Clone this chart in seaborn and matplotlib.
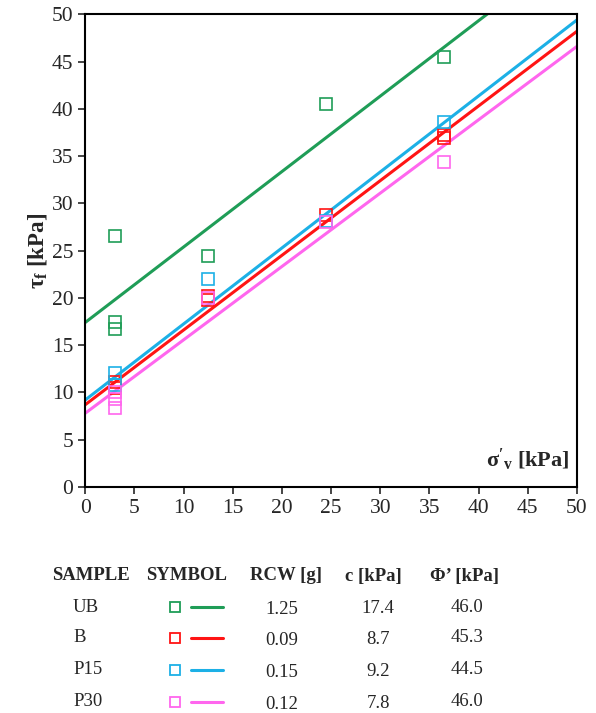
# Shear strength vs vertical effective stress - direct shear results

import numpy as np
import pandas as pd
import seaborn as sns
import matplotlib.pyplot as plt
from matplotlib.lines import Line2D

# sample names and colours
samples = ['UB', 'B', 'P15', 'P30']
colors = ['#1f9d57', '#ff1414', '#1cb0e6', '#ff66ee']

# measured points (sigma'v, tau_f) per sample
ub_x = [3, 3, 3, 12.5, 24.5, 36.5]
ub_y = [26.5, 17.4, 16.7, 24.4, 40.5, 45.5]
b_x = [3, 3, 12.5, 12.5, 24.5, 36.5, 36.5]
b_y = [11.1, 10.5, 20.2, 19.8, 28.8, 37.2, 36.9]
p15_x = [3, 3, 12.5, 24.5, 36.5]
p15_y = [12.1, 10.8, 22.0, 28.1, 38.6]
p30_x = [3, 3, 3, 12.5, 24.5, 36.5]
p30_y = [10.0, 9.3, 8.4, 20.0, 28.0, 34.4]

# failure envelopes read at sigma'v = 0 and sigma'v = 50
line_x = [0, 50]
ub_line = [17.4, 57.3]
b_line = [8.7, 48.2]
p15_line = [9.2, 49.4]
p30_line = [7.8, 46.6]

# table values
rcw = ['1.25', '0.09', '0.15', '0.12']
c_vals = ['17.4', '8.7', '9.2', '7.8']
phi_vals = ['46.0', '45.3', '44.5', '46.0']

pts = pd.concat([
    pd.DataFrame({'sv': ub_x, 'tau': ub_y, 'sample': 'UB'}),
    pd.DataFrame({'sv': b_x, 'tau': b_y, 'sample': 'B'}),
    pd.DataFrame({'sv': p15_x, 'tau': p15_y, 'sample': 'P15'}),
    pd.DataFrame({'sv': p30_x, 'tau': p30_y, 'sample': 'P30'}),
])
lines = pd.concat([
    pd.DataFrame({'sv': line_x, 'tau': ub_line, 'sample': 'UB'}),
    pd.DataFrame({'sv': line_x, 'tau': b_line, 'sample': 'B'}),
    pd.DataFrame({'sv': line_x, 'tau': p15_line, 'sample': 'P15'}),
    pd.DataFrame({'sv': line_x, 'tau': p30_line, 'sample': 'P30'}),
])

sns.set_style('ticks')
plt.rcParams['font.family'] = ['Liberation Serif', 'DejaVu Serif']
plt.rcParams['mathtext.fontset'] = 'custom'
plt.rcParams['mathtext.rm'] = 'Liberation Serif'
plt.rcParams['mathtext.bf'] = 'Liberation Serif:bold'
plt.rcParams['mathtext.it'] = 'Liberation Serif:italic'

fig = plt.figure(figsize=(5.96, 7.13), dpi=100)
ax = fig.add_axes([0.143, 0.317, 0.825, 0.663])

pal = dict(zip(samples, colors))
sns.lineplot(data=lines, x='sv', y='tau', hue='sample', palette=pal,
             hue_order=samples, linewidth=2.2, legend=False, ax=ax)
for s in samples:
    d = pts[pts['sample'] == s]
    ax.plot(d['sv'], d['tau'], 's', ms=9, mfc='none', mec=pal[s], mew=1.2)

ax.set_xlim(0, 50)
ax.set_ylim(0, 50)
ax.set_xticks(np.arange(0, 51, 5))
ax.set_yticks(np.arange(0, 51, 5))
ax.tick_params(labelsize=15.5, length=5, width=1.2, direction='out')
for sp in ax.spines.values():
    sp.set_linewidth(1.5)
    sp.set_color('black')
ax.set_xlabel('')
ax.set_ylabel(r'$\mathbf{\tau_f}$ [kPa]', fontsize=16.5, fontweight='bold', labelpad=2)
ax.text(0.985, 0.03, r"$\mathbf{\sigma'_v}$ [kPa]", transform=ax.transAxes,
        ha='right', va='bottom', fontsize=16, fontweight='bold')

# table under the chart
hdr_y = 1 - 576 / 713
col_x = [91 / 596, 187 / 596, 286 / 596, 373 / 596, 465 / 596]
headers = ['SAMPLE', 'SYMBOL', 'RCW [g]', 'c [kPa]', 'Φ’ [kPa]']
for x, h in zip(col_x, headers):
    fig.text(x, hdr_y, h, ha='center', va='center', fontsize=13.5, fontweight='bold')

row_y = [607, 638, 670, 702]
for i, s in enumerate(samples):
    y = 1 - row_y[i] / 713
    fig.text(73 / 596, y, s, ha='left', va='center', fontsize=13.5)
    fig.add_artist(Line2D([175 / 596], [y], marker='s', ms=7, mfc='none',
                          mec=colors[i], mew=1.3, transform=fig.transFigure))
    fig.add_artist(Line2D([191 / 596, 223 / 596], [y, y], color=colors[i],
                          lw=2.2, transform=fig.transFigure))
    fig.text(282 / 596, y - 0.004, rcw[i], ha='center', va='center', fontsize=13.5)
    fig.text(378 / 596, y - 0.002, c_vals[i], ha='center', va='center', fontsize=13.5)
    fig.text(467 / 596, y, phi_vals[i], ha='center', va='center', fontsize=13.5)

fig.savefig('out.png', dpi=100)
